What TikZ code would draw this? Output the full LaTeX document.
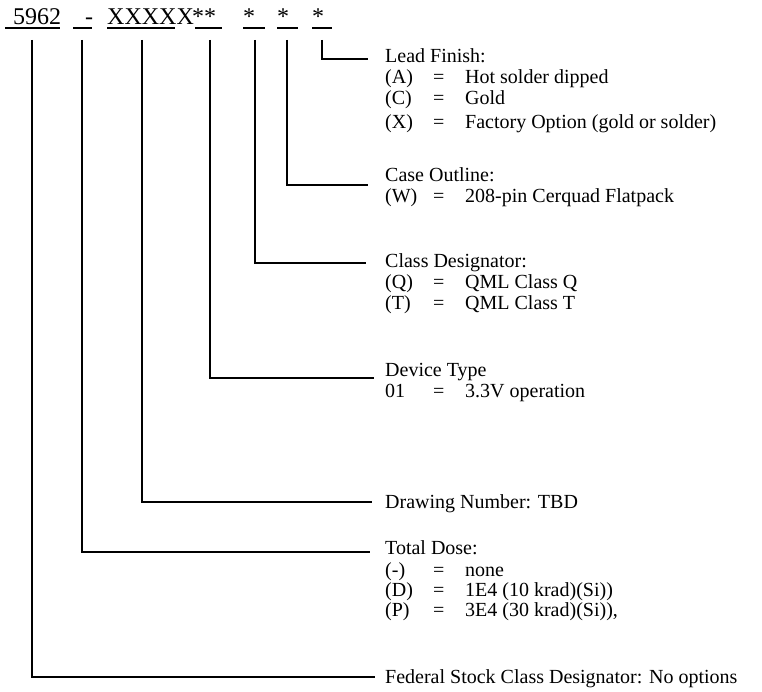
\documentclass[tikz,border=0pt]{standalone}
\usepackage{fontspec}
\setmainfont{Liberation Serif}
\begin{document}
\begin{tikzpicture}[x=1pt,y=-1pt,
  conn/.style={line width=1.6pt},
  uline/.style={line width=1.2pt},
  lbl/.style={anchor=base west, inner sep=0pt, font=\fontsize{20}{20}\selectfont},
  hdr/.style={anchor=base west, inner sep=0pt, font=\fontsize{24}{24}\selectfont}]
\useasboundingbox (0,0) rectangle (762,692);
% header
\node[hdr] (h1) at (13,25) {5962};
\node[hdr] (h2) at (85,25) {-};
\node[hdr] (h3) at (107,25) {XXXXX};
\node[hdr] (h4) at (192,25) {**};
\node[hdr] (h5) at (243,25) {*};
\node[hdr] (h6) at (277,25) {*};
\node[hdr] (h7) at (312,25) {*};
\draw[uline] (5,28) -- (60,28);
\draw[uline] (73,28) -- (92,28);
\draw[uline] (107,28) -- (175,28);
\draw[uline] (195,28) -- (222,28);
\draw[uline] (243,28) -- (265,28);
\draw[uline] (277,28) -- (298,28);
\draw[uline] (312,28) -- (332,28);
% connector start / end points
\coordinate (s1) at (322,40); \coordinate (e1) at (368,59);
\coordinate (s2) at (287,40); \coordinate (e2) at (368,185);
\coordinate (s3) at (255,40); \coordinate (e3) at (366,263);
\coordinate (s4) at (210,40); \coordinate (e4) at (374,378);
\coordinate (s5) at (142,40); \coordinate (e5) at (372,502);
\coordinate (s6) at (82,40);  \coordinate (e6) at (370,552);
\coordinate (s7) at (32,40);  \coordinate (e7) at (375,677);
\foreach \i in {1,...,7} { \draw[conn] (s\i) |- (e\i); }
% Lead finish
\node[lbl] (lf) at (385,63) {Lead Finish:};
\node[lbl] (lfa) at (385,84) {(A)}; \node[lbl] at (433,84) {=}; \node[lbl] at (465,84) {Hot solder dipped};
\node[lbl] (lfc) at (385,105) {(C)}; \node[lbl] at (433,105) {=}; \node[lbl] at (465,105) {Gold};
\node[lbl] (lfx) at (385,129) {(X)}; \node[lbl] at (433,129) {=}; \node[lbl] at (465,129) {Factory Option (gold or solder)};
% Case outline
\node[lbl] (co) at (385,182) {Case Outline:};
\node[lbl] (cow) at (385,203) {(W)}; \node[lbl] at (433,203) {=}; \node[lbl] at (465,203) {208-pin Cerquad Flatpack};
% Class
\node[lbl] (cd) at (385,268) {Class Designator:};
\node[lbl] (cdq) at (385,289) {(Q)}; \node[lbl] at (433,289) {=}; \node[lbl] at (465,289) {QML Class Q};
\node[lbl] (cdt) at (385,309) {(T)}; \node[lbl] at (433,309) {=}; \node[lbl] at (465,309) {QML Class T};
% Device
\node[lbl] (dt) at (385,376) {Device Type};
\node[lbl] (dt1) at (385,397) {01}; \node[lbl] at (433,397) {=}; \node[lbl] at (465,397) {3.3V operation};
% Drawing
\node[lbl] (dn) at (385,508) {Drawing Number: TBD};
% Total dose
\node[lbl] (td) at (385,554) {Total Dose:};
\node[lbl] (tdn) at (385,576) {(-)}; \node[lbl] at (433,576) {=}; \node[lbl] at (465,576) {none};
\node[lbl] (tdd) at (385,596) {(D)}; \node[lbl] at (433,596) {=}; \node[lbl] at (465,596) {1E4 (10 krad)(Si))};
\node[lbl] (tdp) at (385,616) {(P)}; \node[lbl] at (433,616) {=}; \node[lbl] at (465,616) {3E4 (30 krad)(Si)),};
% Federal
\node[lbl] (fs) at (385,683) {Federal Stock Class Designator: No options};
\end{tikzpicture}
\end{document}
